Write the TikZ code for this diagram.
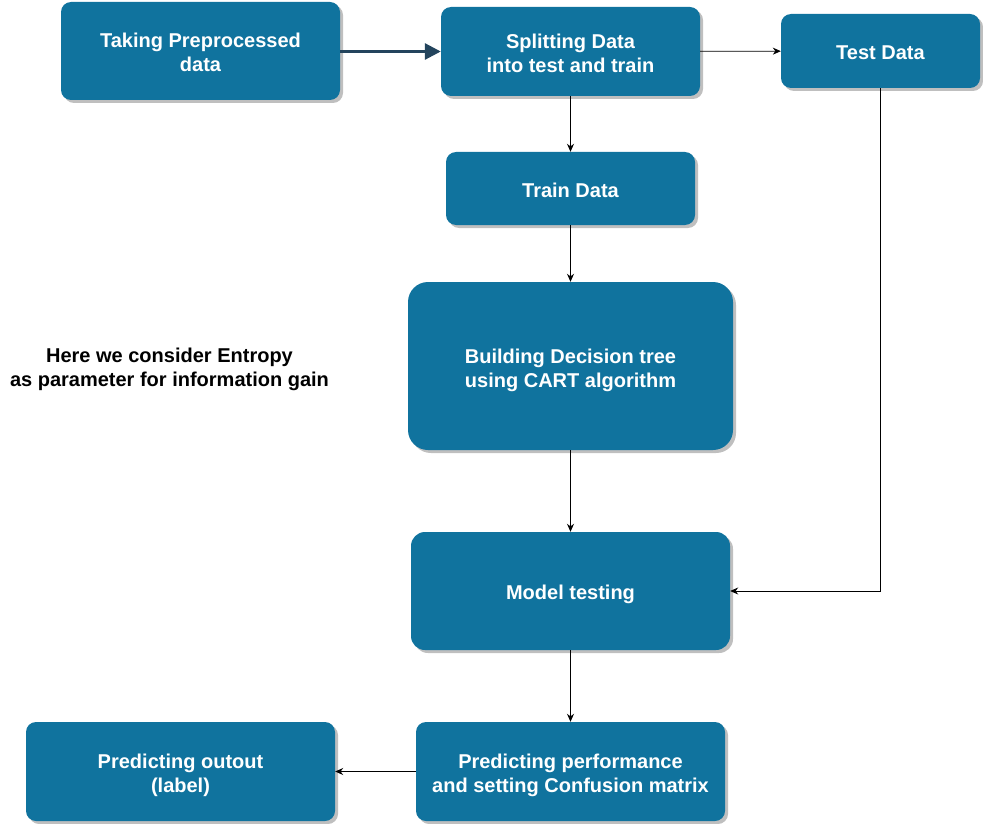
\documentclass[tikz,border=0pt]{standalone}
\usepackage{fontspec}
\setmainfont{Liberation Sans}
\usetikzlibrary{positioning, arrows.meta, shadows}

\definecolor{boxblue}{HTML}{10739E}
\definecolor{darkline}{HTML}{23445D}

\tikzset{
  block/.style={draw=none, fill=boxblue, text=white, rounded corners=10pt,
    font=\fontsize{20}{24}\selectfont\bfseries, align=center, inner sep=0pt,
    execute at begin node={\rule{0pt}{22pt}},
    execute at end node={\rule[-4pt]{0pt}{0pt}},
    drop shadow={shadow xshift=3pt, shadow yshift=-3pt, fill=black, opacity=0.25}},
  twoline/.style={text height=42pt, text depth=0pt},
  link/.style={draw=black, line width=0.8pt, -{Stealth[length=8pt, width=7pt]}},
}

\begin{document}
\begin{tikzpicture}[x=1pt, y=-1pt]
    \useasboundingbox (0,0) rectangle (983,824);

    % Boxes of the flow
    \node[block, twoline, minimum width=279pt, minimum height=98pt] (prep) at (200.5,51) {Taking Preprocessed\\data};
    \node[block, twoline, minimum width=259pt, minimum height=89pt] (split) at (570.5,51.5) {Splitting Data\\into test and train};
    \node[block, minimum width=199pt, minimum height=74pt] (test) at (880.5,51) {Test Data};
    \node[block, minimum width=249pt, minimum height=73pt] (train) at (570.5,188.5) {Train Data};
    \node[block, twoline, rounded corners=20pt, minimum width=325pt, minimum height=168pt] (tree) at (570.5,366) {Building Decision tree\\using CART algorithm};
    \node[block, rounded corners=14pt, minimum width=319pt, minimum height=118pt] (model) at (570.5,591) {Model testing};
    \node[block, twoline, minimum width=309pt, minimum height=99pt] (perf) at (570.5,771.5) {Predicting performance\\and setting Confusion matrix};
    \node[block, twoline, minimum width=309pt, minimum height=99pt] (label) at (180.5,771.5) {Predicting outout\\(label)};

    % Side note
    \node[font=\fontsize{20}{24}\selectfont\bfseries, align=center] (note) at (169.5,369) {Here we consider Entropy\\as parameter for information gain};

    % Connectors
    \draw[darkline, line width=3pt, -{Triangle[length=16pt, width=16pt]}] (prep.east |- split) -- (split);
    \draw[link] (split) -- (test);
    \draw[link] (split) -- (train);
    \draw[link] (train) -- (tree);
    \draw[link] (tree) -- (model);
    \draw[link] (test) |- (model);
    \draw[link] (model) -- (perf);
    \draw[link] (perf) -- (label);

  \end{tikzpicture}
\end{document}
